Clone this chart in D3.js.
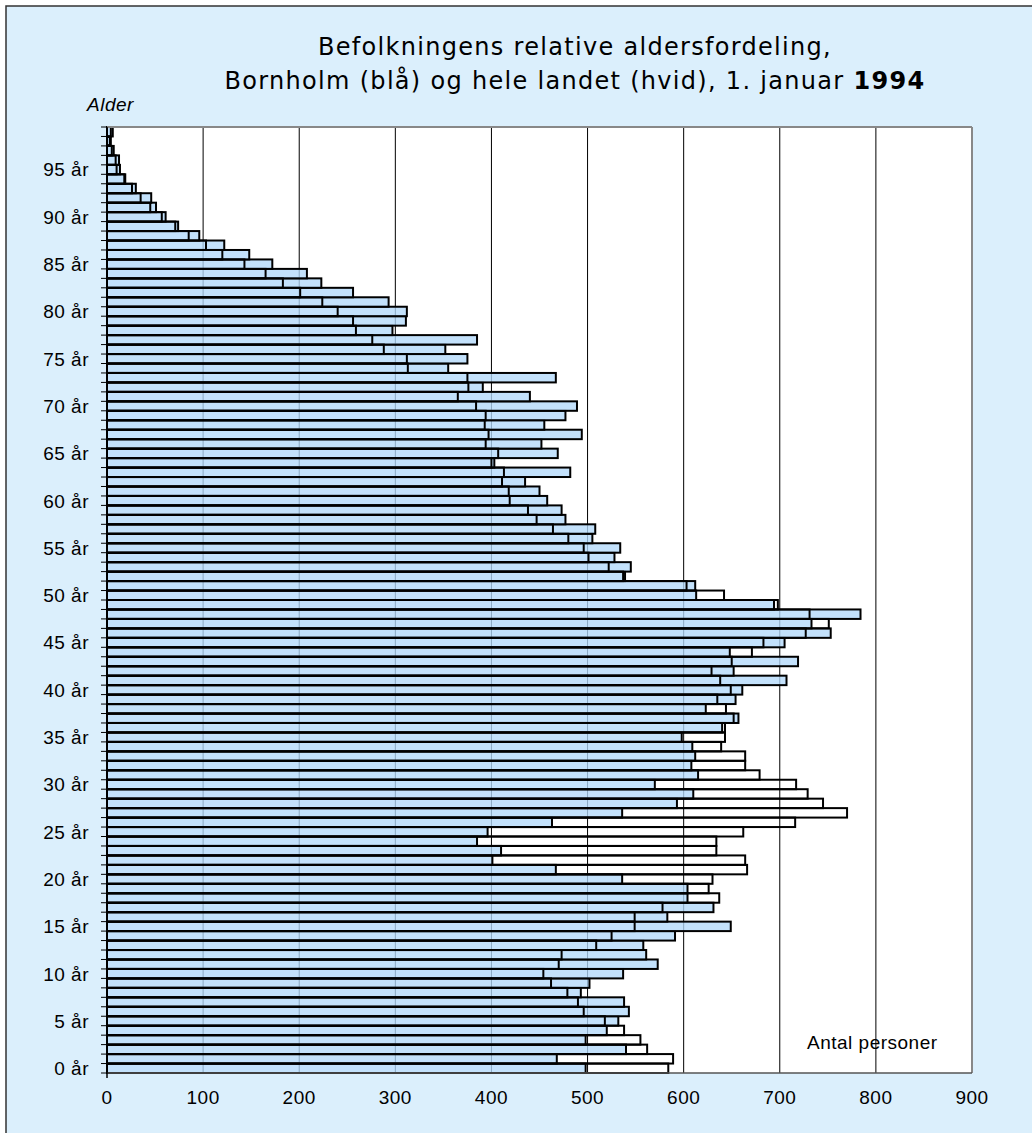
<!DOCTYPE html>
<html>
<head>
<meta charset="utf-8">
<script src="https://cdn.jsdelivr.net/npm/d3@7"></script>
<style>
  body { margin: 0; background: #fff; }
  text { font-family: "Liberation Sans", Arial, sans-serif; fill: #000; font-size: 19px; letter-spacing: 0.5px; }
  .title { font-family: Verdana, "DejaVu Sans", sans-serif; font-size: 24px; letter-spacing: 1.3px; }
</style>
</head>
<body>
<div id="chart"></div>
<script>
// ages 0 .. 99 (one row each, 0 at the bottom)
const ages = d3.range(0, 100);

// hele landet (white bars)
const landet = [
  584, 589, 562, 555, 538, 518, 496, 490, 479, 462,
  454, 470, 473, 509, 525, 549, 549, 578, 637, 626,
  630, 666, 664, 634, 634, 662, 716, 770, 745, 729,
  717, 679, 664, 664, 639, 643, 643, 652, 644, 635,
  649, 638, 629, 650, 671, 683, 727, 751, 731, 698,
  642, 603, 537, 522, 501, 496, 480, 464, 447, 438,
  419, 418, 411, 413, 400, 407, 394, 397, 393, 394,
  384, 365, 376, 375, 313, 312, 288, 276, 259, 256,
  240, 224, 201, 183, 165, 143, 120, 103, 85, 71,
  57, 45, 35, 26, 18, 10, 9, 5, 3, 4
];

// Bornholm (blue bars)
const bornholm = [
  498, 468, 540, 498, 520, 532, 543, 538, 493, 502,
  537, 573, 561, 558, 591, 649, 583, 631, 604, 604,
  536, 467, 401, 410, 385, 396, 463, 536, 593, 610,
  570, 615, 608, 612, 609, 598, 640, 657, 623, 654,
  661, 707, 652, 719, 648, 705, 753, 733, 784, 694,
  613, 612, 539, 545, 528, 534, 505, 508, 477, 473,
  458, 450, 435, 482, 403, 469, 452, 494, 455, 477,
  489, 440, 391, 467, 355, 375, 352, 385, 297, 311,
  312, 293, 256, 223, 208, 172, 148, 122, 96, 74,
  61, 51, 46, 30, 19, 13.5, 12.5, 7, 4, 6
];

const yTickAges = [0, 5, 10, 15, 20, 25, 30, 35, 40, 45, 50, 55, 60, 65, 70, 75, 80, 85, 90, 95];
const xTicks = [0, 100, 200, 300, 400, 500, 600, 700, 800, 900];

const width = 1032, height = 1133;
const margin = { left: 107, top: 127 };
const plotW = 865, plotH = 946;

const svg = d3.select("#chart").append("svg")
  .attr("width", width)
  .attr("height", height);

// outer frame
svg.append("rect")
  .attr("x", 6).attr("y", 6)
  .attr("width", width + 20).attr("height", height + 20)
  .attr("fill", "#dbeffc")
  .attr("stroke", "#333")
  .attr("stroke-width", 1.5);

// title
const title = svg.append("text").attr("class", "title").attr("text-anchor", "middle");
title.append("tspan").attr("x", 575).attr("y", 55).text("Befolkningens relative aldersfordeling,");
const l2 = title.append("tspan").attr("x", 575).attr("y", 89);
l2.append("tspan").text("Bornholm (blå) og hele landet (hvid), 1. januar ");
l2.append("tspan").attr("font-weight", "bold").text("1994");

svg.append("text")
  .attr("x", 87).attr("y", 111)
  .attr("font-style", "italic")
  .text("Alder");

const g = svg.append("g").attr("transform", `translate(${margin.left},${margin.top})`);

g.append("rect").attr("width", plotW).attr("height", plotH).attr("fill", "#fff");

const x = d3.scaleLinear().domain([0, 900]).range([0, plotW]);
const y = d3.scaleBand().domain(ages).range([plotH, 0]).padding(0);

// gridlines
g.append("g").selectAll("line")
  .data(xTicks.slice(1, -1))
  .enter().append("line")
  .attr("x1", d => x(d)).attr("x2", d => x(d))
  .attr("y1", 0).attr("y2", plotH)
  .attr("stroke", "#000").attr("stroke-width", 1);

// Bornholm bars
g.append("g").selectAll("rect")
  .data(ages)
  .enter().append("rect")
  .attr("x", 0)
  .attr("y", d => y(d))
  .attr("width", d => x(bornholm[d]))
  .attr("height", y.bandwidth())
  .attr("fill", "rgb(178,216,250)")
  .attr("fill-opacity", 0.78)
  .attr("stroke", "#000")
  .attr("stroke-width", 2);

// hele landet bars (outline only, on top)
g.append("g").selectAll("rect")
  .data(ages)
  .enter().append("rect")
  .attr("x", 0)
  .attr("y", d => y(d))
  .attr("width", d => x(landet[d]))
  .attr("height", y.bandwidth())
  .attr("fill", "none")
  .attr("stroke", "#000")
  .attr("stroke-width", 2);

// plot frame: top and right in grey
g.append("line").attr("x1", 0).attr("x2", plotW).attr("y1", 0).attr("y2", 0)
  .attr("stroke", "#888").attr("stroke-width", 2);
g.append("line").attr("x1", plotW).attr("x2", plotW).attr("y1", 0).attr("y2", plotH)
  .attr("stroke", "#888").attr("stroke-width", 2);
g.append("line").attr("x1", 0).attr("x2", plotW).attr("y1", plotH).attr("y2", plotH)
  .attr("stroke", "#555").attr("stroke-width", 1.5);

// y axis with a tick on every row boundary
g.append("line").attr("x1", 0).attr("x2", 0).attr("y1", 0).attr("y2", plotH + 5)
  .attr("stroke", "#000").attr("stroke-width", 1.5);
g.append("g").selectAll("line")
  .data(ages.concat([100]))
  .enter().append("line")
  .attr("x1", -6).attr("x2", 0)
  .attr("y1", d => plotH - d * y.bandwidth())
  .attr("y2", d => plotH - d * y.bandwidth())
  .attr("stroke", "#000").attr("stroke-width", 1);

g.append("g").selectAll("text")
  .data(yTickAges)
  .enter().append("text")
  .attr("x", -18)
  .attr("y", d => y(d) + y.bandwidth() / 2)
  .attr("dy", "0.36em")
  .attr("text-anchor", "end")
  .text(d => d + " år");

// x axis labels
g.append("g").selectAll("text")
  .data(xTicks)
  .enter().append("text")
  .attr("x", d => x(d))
  .attr("y", plotH + 31)
  .attr("text-anchor", "middle")
  .text(d => d);

g.append("text")
  .attr("x", 700).attr("y", plotH - 24)
  .text("Antal personer");
</script>
</body>
</html>
